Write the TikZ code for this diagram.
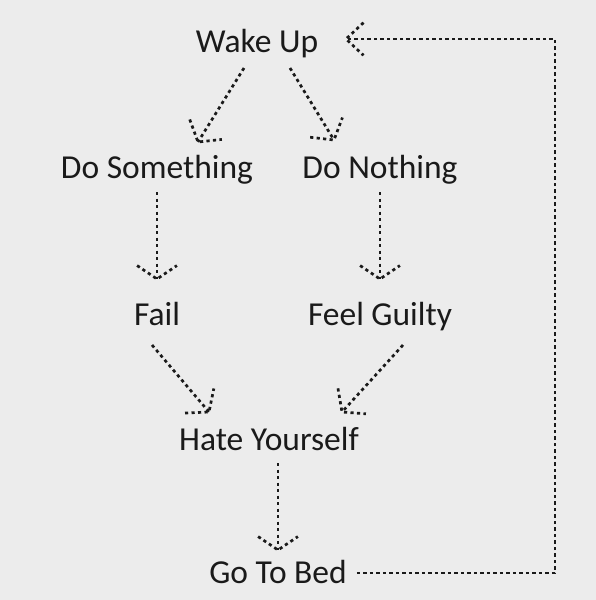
\documentclass[tikz,border=0pt]{standalone}
\usepackage{fontspec}
\setmainfont{Carlito}
\usetikzlibrary{calc}

\definecolor{paper}{HTML}{ECECEC}
\definecolor{ink}{HTML}{1A1A1A}

\tikzset{
  lbl/.style={anchor=base, inner sep=0pt, text=ink, font=\fontsize{33.5}{40}\selectfont},
  dotline/.style={line width=2.7pt, dash pattern=on 3.2pt off 3.3pt, draw=ink},
}

% open V made of dashes, #2 = tip, #3 = point the line comes from
\newcommand\tipbarbs[3][52]{\draw[dotline] ($(#2)!24pt!#1:(#3)$) -- (#2) -- ($(#2)!24pt!-#1:(#3)$);}
\newcommand\flowarrow[3][52]{\draw[dotline] (#2) coordinate (tl) -- (#3) coordinate (hd); \tipbarbs[#1]{hd}{tl}}

\begin{document}
\begin{tikzpicture}[x=1pt, y=-1pt]
  \fill[paper] (0,0) rectangle (596,600);

  \node[lbl] (wake)   at (257,52)  {Wake Up};
  \node[lbl] (dosome) at (157,178) {Do Something};
  \node[lbl] (donoth) at (380,178) {Do Nothing};
  \node[lbl] (fail)   at (157,325) {Fail};
  \node[lbl] (guilty) at (380,325) {Feel Guilty};
  \node[lbl] (hate)   at (269,450) {Hate Yourself};
  \node[lbl] (bed)    at (278,583) {Go To Bed};

  \flowarrow{[shift={(-13,16)}]wake.base}{[shift={(41,-36)}]dosome.base}
  \flowarrow{[shift={(33,16)}]wake.base}{[shift={(-46,-38)}]donoth.base}
  \flowarrow[56]{[shift={(0,14)}]dosome.base}{[shift={(0,-46)}]fail.base}
  \flowarrow[56]{[shift={(0,14)}]donoth.base}{[shift={(0,-46)}]guilty.base}
  \flowarrow{[shift={(-5,20)}]fail.base}{[shift={(-60,-38)}]hate.base}
  \flowarrow{[shift={(23,20)}]guilty.base}{[shift={(73,-38)}]hate.base}
  \flowarrow[56]{[shift={(9,13)}]hate.base}{[shift={(0,-33)}]bed.base}

  % back to the start
  \coordinate (turn) at (555,39);
  \draw[dotline] ([shift={(10,-10)}]bed.base east) -| (turn) -- ([shift={(89,-13)}]wake.base) coordinate (hd);
  \tipbarbs[43]{hd}{turn}
\end{tikzpicture}
\end{document}
